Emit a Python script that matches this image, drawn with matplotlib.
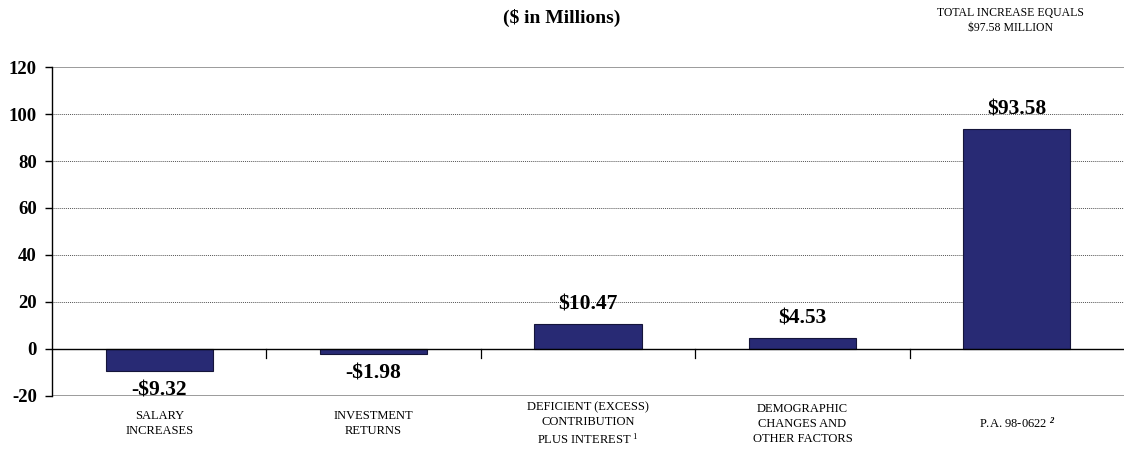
import numpy as np
import matplotlib.pyplot as plt

plt.rcParams['font.family'] = 'Liberation Serif'
plt.rcParams['mathtext.fontset'] = 'custom'
plt.rcParams['mathtext.rm'] = 'Liberation Serif'
plt.rcParams['mathtext.it'] = 'Liberation Serif:italic'
plt.rcParams['mathtext.bf'] = 'Liberation Serif:bold:italic'

categories = ['SALARY\nINCREASES',
              'INVESTMENT\nRETURNS',
              'DEFICIENT (EXCESS)\nCONTRIBUTION\nPLUS INTEREST $^{\\it 1}$',
              'DEMOGRAPHIC\nCHANGES AND\nOTHER FACTORS',
              'P.A. 98-0622 $^{\\mathbf{2}}$']
values = [-9.32, -1.98, 10.47, 4.53, 93.58]
labels = ['-$9.32', '-$1.98', '$10.47', '$4.53', '$93.58']
yticks = [-20, 0, 20, 40, 60, 80, 100, 120]

fig = plt.figure(figsize=(11.24, 4.54), dpi=100)
ax = fig.add_axes([0.0463, 0.1278, 0.9537, 0.7246])

x = np.arange(len(values))
bars = ax.bar(x, values, width=0.5, color='#282a74', edgecolor='#15153a', linewidth=0.8, zorder=3)

ax.set_xlim(-0.5, len(values) - 0.5)
ax.set_ylim(-20, 120)

# gridlines
for y in yticks:
    if y in (-20, 120):
        ax.axhline(y, color='#8a8a8a', linewidth=1.2, zorder=1)
    elif y == 0:
        ax.axhline(y, color='black', linewidth=1.0, zorder=4)
    else:
        ax.axhline(y, color='#555555', linewidth=0.7, linestyle=(0, (1, 1)), zorder=1)

# separator ticks below zero line
for sep in x[:-1] + 0.5:
    ax.plot([sep, sep], [0, -3.8], color='black', linewidth=0.9, zorder=4)

for bar, val, lab in zip(bars, values, labels):
    cx = bar.get_x() + bar.get_width() / 2
    if val >= 0:
        ax.annotate(lab, (cx, val), xytext=(0, 7), textcoords='offset points',
                    ha='center', va='bottom', fontsize=15.5, fontweight='bold')
    else:
        ax.annotate(lab, (cx, val), xytext=(0, -7), textcoords='offset points',
                    ha='center', va='top', fontsize=15.5, fontweight='bold')

for xi, cat in zip(x, categories):
    ax.text(xi, -31.8, cat, ha='center', va='center', fontsize=9, linespacing=1.35)

ax.set_yticks(yticks)
ax.set_yticklabels([str(t) for t in yticks], fontsize=13.5, fontweight='bold')
ax.set_xticks([])
ax.tick_params(axis='y', length=5, width=1, direction='out', pad=6)
for s in ['top', 'right', 'bottom']:
    ax.spines[s].set_visible(False)
ax.spines['left'].set_linewidth(1.0)

fig.text(0.5, 0.96, '($ in Millions)', ha='center', va='center', fontsize=14, fontweight='bold')
fig.text(0.899, 0.955, 'TOTAL INCREASE EQUALS\n$97.58 MILLION', ha='center', va='center',
         fontsize=8.5, linespacing=1.3)

fig.savefig('out.png', dpi=100)
